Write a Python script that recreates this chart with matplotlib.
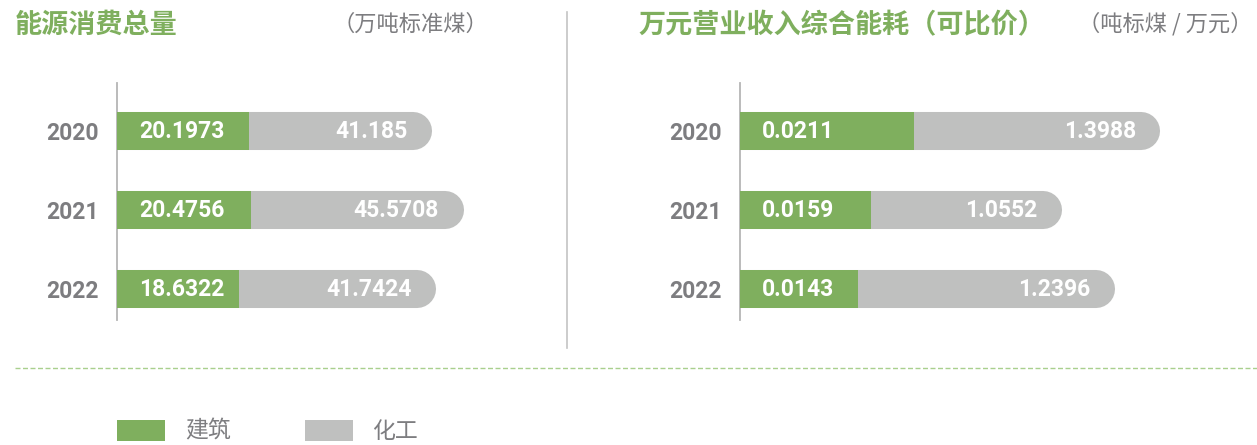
import matplotlib
matplotlib.use("Agg")
from matplotlib import pyplot as plt
from matplotlib.patches import Rectangle
from matplotlib.lines import Line2D

# data
years = ["2020", "2021", "2022"]
series_names = ["建筑", "化工"]
energy_build = [20.1973, 20.4756, 18.6322]
energy_chem = [41.185, 45.5708, 41.7424]
intensity_build = [0.0211, 0.0159, 0.0143]
intensity_chem = [1.3988, 1.0552, 1.2396]

GREEN = "#7faf5e"
GRAY_BAR = "#bfc0bf"
GRAY_TXT = "#7d7d80"
LINE_GRAY = "#c4c4c4"

plt.rcParams["font.family"] = ["Noto Sans CJK SC", "DejaVu Sans"]

W, H = 1257, 445
fig = plt.figure(figsize=(W / 100, H / 100), dpi=100)


def fx(px):
    return px / W


def fy(py):
    return 1 - py / H


def panel(x0, width, build, chem, gray_max, green_max):
    ax = fig.add_axes([fx(x0), fy(320), width / W, 237 / H])
    ax.set_xlim(0, gray_max)
    ax.set_ylim(2.392, -0.608)
    for s in ["top", "right", "bottom"]:
        ax.spines[s].set_visible(False)
    ax.spines["left"].set_color("#b5b5b5")
    ax.spines["left"].set_linewidth(1.3)
    ax.set_xticks([])
    ax.set_yticks(range(len(years)), years)
    ax.tick_params(axis="y", length=0, pad=13)
    for lab in ax.get_yticklabels():
        lab.set_family("Roboto")
        lab.set_weight("bold")
        lab.set_fontsize(16.5)
        lab.set_color(GRAY_TXT)
    ax.patch.set_alpha(0)

    # gray bar with rounded end
    for i, v in enumerate(chem):
        ax.plot([0, v], [i, i], color=GRAY_BAR, lw=27.4,
                solid_capstyle="round", zorder=1)
        ax.annotate(f"{v:g}", (v, i), xytext=(-4, 0),
                    textcoords="offset points", ha="right", va="center",
                    color="white", fontsize=16.5, weight="bold",
                    family="Roboto", zorder=3)

    axg = ax.twiny()
    axg.set_xlim(0, green_max)
    axg.axis("off")
    axg.barh(range(len(years)), build, height=0.481, color=GREEN, zorder=2)
    for i, v in enumerate(build):
        axg.annotate(f"{v:g}", (0, i), xytext=(16, 0),
                     textcoords="offset points", ha="left", va="center",
                     color="white", fontsize=16.5, weight="bold",
                     family="Roboto")
    return ax


panel(117, 450, energy_build, energy_chem, 62.6, 68.7)
panel(740, 517, intensity_build, intensity_chem, 517 / 287, 517 / 8231)

# titles
fig.text(fx(15), fy(25), "能源消费总量", color=GREEN, fontsize=19.5,
         weight="bold", va="center", ha="left")
fig.text(fx(333), fy(24), "（万吨标准煤）", color=GRAY_TXT, fontsize=16,
         va="center", ha="left")
fig.text(fx(638), fy(25), "万元营业收入综合能耗（可比价）", color=GREEN,
         fontsize=19.5, weight="bold", va="center", ha="left")
fig.text(fx(1253), fy(24), "（吨标煤 / 万元）", color=GRAY_TXT, fontsize=16,
         va="center", ha="right")

# separators
fig.add_artist(Line2D([fx(567), fx(567)], [fy(12), fy(348)],
                      color=LINE_GRAY, lw=1.2))
fig.add_artist(Line2D([fx(15), 1], [fy(368), fy(368)], color="#a9d08e",
                      lw=1.0, linestyle=(0, (3.6, 1.8))))

# legend
for x_box, x_txt, col, name in [(117, 185, GREEN, series_names[0]),
                                 (305, 372, GRAY_BAR, series_names[1])]:
    fig.add_artist(Rectangle((fx(x_box), fy(441)), 48 / W, 21 / H,
                             transform=fig.transFigure, color=col, lw=0))
    fig.text(fx(x_txt), fy(431), name, color=GRAY_TXT, fontsize=16.5,
             va="center", ha="left")

fig.savefig("out.png", dpi=100)
